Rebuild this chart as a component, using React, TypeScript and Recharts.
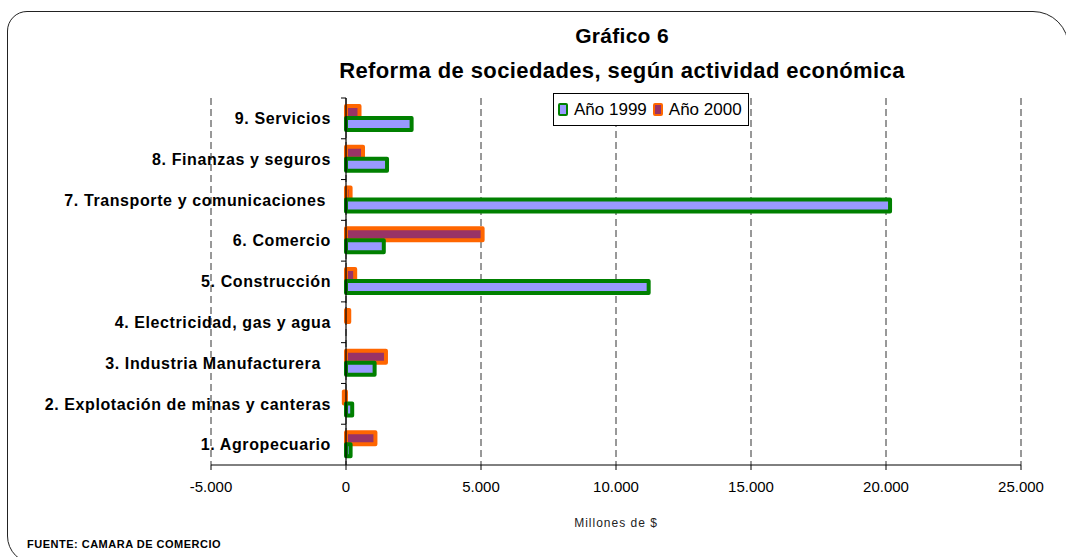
import React from 'react';
import { BarChart, Bar, XAxis, YAxis, CartesianGrid, ReferenceLine } from 'recharts';

const categories = [
  '9. Servicios',
  '8. Finanzas y seguros',
  '7. Transporte y comunicaciones ',
  '6. Comercio',
  '5. Construcción',
  '4. Electricidad, gas y agua',
  '3. Industria Manufacturera  ',
  '2. Explotación de minas y canteras',
  '1. Agropecuario',
];
const anio1999 = [2430, 1520, 20150, 1400, 11210, 0, 1060, 230, 170];
const anio2000 = [500, 630, 170, 5060, 340, 120, 1480, -80, 1090];
const xTicks = [-5000, 0, 5000, 10000, 15000, 20000, 25000];

const data = categories.map((name, i) => ({ name, a1999: anio1999[i], a2000: anio2000[i] }));

const W = 1066;
const H = 557;
const Y_AXIS_W = 1;
const M = { top: 98, right: 45, bottom: 62, left: 211 - Y_AXIS_W };
const X_AXIS_H = 30;
const plotLeft = M.left + Y_AXIS_W;
const plotW = W - plotLeft - M.right;
const plotH = H - M.top - M.bottom - X_AXIS_H;
const xMin = xTicks[0];
const xMax = xTicks[xTicks.length - 1];
// the category axis crosses at 0, as in the original
const zeroX = plotLeft + (plotW * (0 - xMin)) / (xMax - xMin);
const band = plotH / categories.length;

const FONT = '"Liberation Sans", Arial, sans-serif';

const fmt = (v: number) => {
  const s = Math.abs(v).toString().replace(/\B(?=(\d{3})+(?!\d))/g, '.');
  return v < 0 ? '-' + s : s;
};

const renderCategoryTick = (props: any) => {
  const { y, payload } = props;
  return (
    <g>
      <line x1={zeroX - 5} x2={zeroX} y1={y - band / 2} y2={y - band / 2} stroke="#000" />
      <text
        x={zeroX - 15}
        y={y}
        dy="0.36em"
        textAnchor="end"
        fontSize={16}
        fontWeight="bold"
        letterSpacing={0.6}
        fill="#000"
        style={{ whiteSpace: 'pre', fontFamily: FONT }}
      >
        {payload.value}
      </text>
    </g>
  );
};

function Swatch({ fill, stroke }: { fill: string; stroke: string }) {
  return (
    <span
      style={{
        display: 'inline-block',
        width: 6,
        height: 9,
        background: fill,
        border: `2.5px solid ${stroke}`,
        borderRadius: 2,
        marginRight: 6,
      }}
    />
  );
}

export default function App() {
  return (
    <div
      style={{
        position: 'absolute',
        left: 0,
        top: 0,
        width: W,
        height: H,
        overflow: 'hidden',
        background: '#fff',
        fontFamily: FONT,
      }}
    >
      <div
        style={{
          position: 'absolute',
          left: 7,
          top: 11,
          width: 1060,
          height: 551,
          border: '1.5px solid #222',
          borderRadius: '20px 36px 0 28px',
        }}
      />
      <div
        style={{
          position: 'absolute',
          left: 0,
          width: 1244,
          top: 24,
          textAlign: 'center',
          fontWeight: 'bold',
          color: '#000',
        }}
      >
        <div style={{ fontSize: 21, letterSpacing: 0.3, lineHeight: '24px' }}>Gráfico 6</div>
        <div style={{ fontSize: 22, letterSpacing: 0.4, lineHeight: '26px', marginTop: 10 }}>
          Reforma de sociedades, según actividad económica
        </div>
      </div>

      <div style={{ position: 'absolute', left: 0, top: 0 }}>
        <BarChart
          width={W}
          height={H}
          layout="vertical"
          data={data}
          margin={M}
          barGap={0}
          barCategoryGap="20%"
        >
          <CartesianGrid horizontal={false} stroke="#333" strokeDasharray="7 4" />
          <XAxis
            type="number"
            domain={[xMin, xMax]}
            ticks={xTicks}
            interval={0}
            tickFormatter={fmt}
            height={X_AXIS_H}
            axisLine={{ stroke: '#000' }}
            tickLine={{ stroke: '#000' }}
            tickSize={5}
            tickMargin={11}
            tick={{ fontSize: 15, fill: '#000', fontFamily: FONT }}
          />
          <YAxis
            type="category"
            dataKey="name"
            width={Y_AXIS_W}
            interval={0}
            axisLine={false}
            tickLine={false}
            tick={renderCategoryTick}
          />
          <Bar
            dataKey="a2000"
            fill="#993366"
            stroke="#FF6600"
            strokeWidth={4}
            strokeLinejoin="round"
            barSize={12}
            isAnimationActive={false}
          />
          <Bar
            dataKey="a1999"
            fill="#9999FF"
            stroke="#008000"
            strokeWidth={4}
            strokeLinejoin="round"
            barSize={12}
            isAnimationActive={false}
          />
          <ReferenceLine x={0} stroke="#000" strokeWidth={1.2} />
        </BarChart>
      </div>

      <div
        style={{
          position: 'absolute',
          left: 553,
          top: 93,
          width: 196,
          height: 33,
          border: '1px solid #000',
          background: '#fff',
          display: 'flex',
          alignItems: 'center',
          paddingLeft: 4,
          fontSize: 17,
          color: '#000',
          boxSizing: 'border-box',
        }}
      >
        <Swatch fill="#9999FF" stroke="#008000" />
        <span style={{ marginRight: 6 }}>Año 1999</span>
        <Swatch fill="#993366" stroke="#FF6600" />
        <span>Año 2000</span>
      </div>

      <div
        style={{
          position: 'absolute',
          left: 0,
          width: 1232,
          top: 516,
          textAlign: 'center',
          fontSize: 12,
          letterSpacing: 1,
          color: '#222',
        }}
      >
        Millones de $
      </div>
      <div
        style={{
          position: 'absolute',
          left: 27,
          top: 538,
          fontSize: 11,
          fontWeight: 'bold',
          letterSpacing: 0.5,
          color: '#000',
        }}
      >
        FUENTE: CAMARA DE COMERCIO
      </div>
    </div>
  );
}
